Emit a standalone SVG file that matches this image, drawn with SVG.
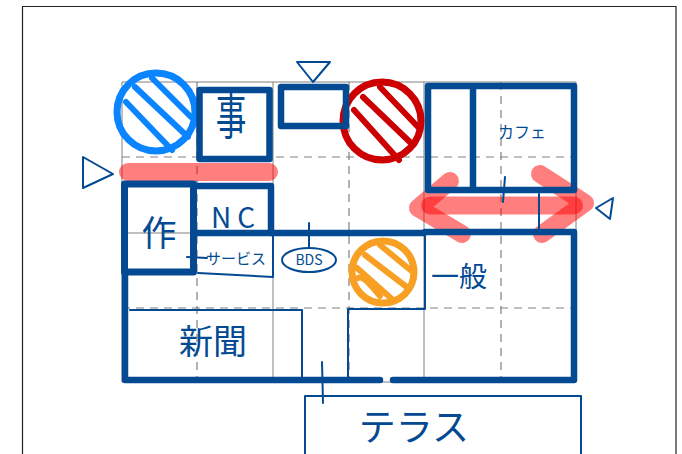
<svg xmlns="http://www.w3.org/2000/svg" width="682" height="454" viewBox="0 0 682 454">
<style>
.g{stroke:#808080;stroke-width:1;fill:none}
.d{stroke:#808080;stroke-width:1.200;fill:none;stroke-dasharray:8 6}
.w{stroke:#034a93;stroke-width:6.500;fill:none;stroke-linecap:round;stroke-linejoin:round}
.t{stroke:#034a93;stroke-width:2;fill:none;stroke-linecap:round;stroke-linejoin:round}
.p{stroke:#ff0000;stroke-opacity:.5;stroke-width:18;fill:none;stroke-linecap:round;stroke-linejoin:round}
.h{fill:none;stroke-width:6;stroke-linecap:round}
text{font-family:"Noto Sans CJK JP","Noto Sans",sans-serif;fill:#034a93;text-anchor:middle;font-weight:400}
</style>
<rect width="682" height="454" fill="#fff"/>
<path d="M22.500 454V6.500H676V454" fill="none" stroke="#222" stroke-width="1.200"/>
<g id="grid">
<path class="g" d="M122 82H576M122 233H576M122 382H576M122 82V382M273 82V382M424 82V382M576 82V382"/>
<path class="d" d="M122 157H576M122 308H576M197 82V382M349 82V382M501 82V382"/>
</g>
<g id="pink-bar"><path class="p" stroke-width="16" d="M128 172H269"/></g>
<g id="pink-arrow"><path class="p" d="M430 205.500H574"/><path class="p" d="M450 181L418 208L462 234"/><path class="p" d="M540 174L585 203L542 234"/></g>
<g id="circle-blue" stroke="#0a84ff"><circle cx="156" cy="112" r="39" class="h" style="stroke-width:7"/><path class="h" d="M152 78L191 117M135 87L188 137M126 102L172 150"/></g>
<g id="circle-red" stroke="#cc0000"><circle cx="382" cy="121" r="39" class="h" style="stroke-width:7"/><path class="h" d="M380 87L418 127M363 97L413 145M354 110L399 160"/></g>
<g id="circle-orange" stroke="#f8a024"><circle cx="383" cy="272" r="31" class="h" style="stroke-width:7"/><path class="h" d="M380 245L414 273M365 255L408 288M357 268L393 300M358 278C362 276 366 279 380 296"/></g>
<g id="connectors">
<path class="w" d="M125 272V380H380M393 380H574V232H425M424 233H197"/>
<path class="t" d="M130 310H302V380M348 380V309H425V233M187 257L207 258M309 223L309 247M322 362L323 403M505 177L503 202M539 194V232"/>
</g>
<g id="triangle-top"><path class="t" d="M297 62H330L313 82Z"/></g>
<g id="triangle-left"><path class="t" d="M83 157L113 174L83 188Z"/></g>
<g id="triangle-right"><path class="t" d="M613 198L596 208L610 219Z"/></g>
<g id="room-ji"><rect class="w" x="199.500" y="90" width="70" height="69"/><text transform="translate(231 134) scale(.85 1.350)" font-size="36">事</text></g>
<g id="room-top"><rect class="w" x="281" y="87" width="65" height="39"/></g>
<g id="room-saku"><rect class="w" x="124.500" y="184" width="69" height="88" style="stroke-width:7"/><text x="159" y="246" font-size="35">作</text></g>
<g id="room-nc"><path class="w" d="M197 186H271V233"/><text x="236" y="228" font-size="28" letter-spacing="6">NC</text></g>
<g id="room-service"><path class="t" d="M198 273L273 277V233"/><text x="236" y="264" font-size="15">サービス</text></g>
<g id="node-bds"><ellipse class="t" cx="309" cy="260" rx="27" ry="12"/><text x="309" y="265" font-size="14">BDS</text></g>
<g id="room-split"><path class="w" d="M428 86H574V190H428ZM473 86V190"/><text x="522" y="138" font-size="16">カフェ</text></g>
<g id="room-general"><text x="459" y="287" font-size="28">一般</text></g>
<g id="room-news"><text x="213" y="354" font-size="34">新聞</text></g>
<g id="terrace"><path class="t" d="M305 454V396H581V454"/><text x="414" y="441" font-size="37">テラス</text></g>
</svg>
